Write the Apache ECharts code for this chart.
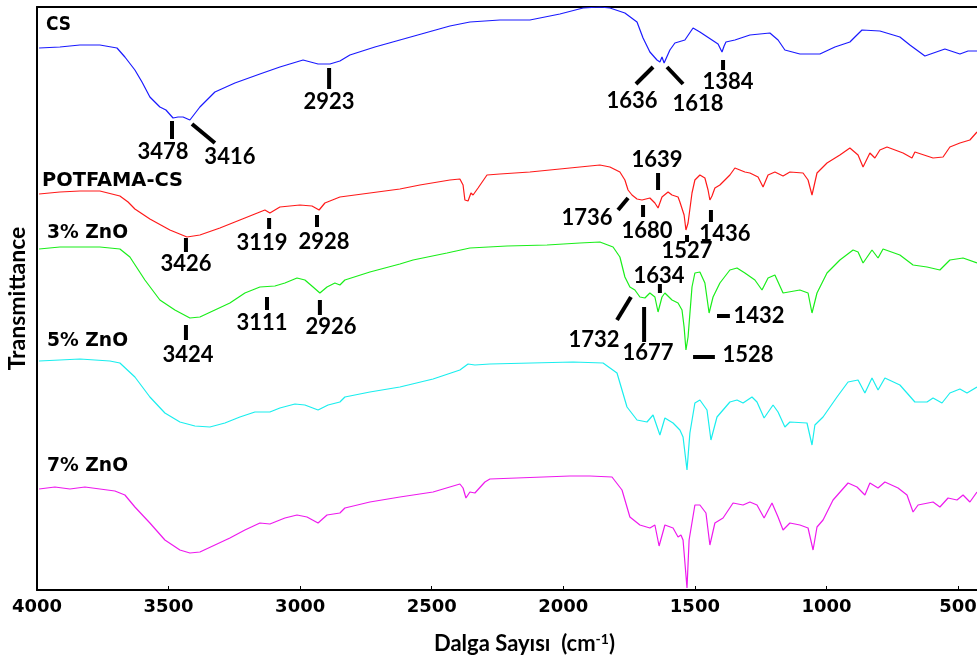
<!DOCTYPE html>
<html>
<head>
<meta charset="utf-8">
<script src="https://cdn.jsdelivr.net/npm/echarts@6/dist/echarts.min.js"></script>
<style>
  html, body { margin: 0; padding: 0; background: #fff; }
  #chart { width: 977px; height: 662px; }
</style>
</head>
<body>
<div id="chart"></div>
<script>
// FTIR spectra, stacked with vertical offsets (transmittance, arbitrary units)
const xTicks = [4000, 3500, 3000, 2500, 2000, 1500, 1000, 500];
const wnRange = [428, 4000];

const csWn = [3992,3913,3837,3761,3696,3666,3628,3601,3571,3533,3510,3483,3464,3445,3419,3381,3324,3248,3153,3077,2989,2932,2887,2849,2811,2716,2621,2526,2431,2355,2241,2127,2013,1925,1861,1823,1766,1720,1697,1671,1644,1633,1625,1617,1595,1576,1538,1507,1481,1435,1412,1405,1397,1389,1382,1348,1291,1215,1184,1158,1101,1025,968,911,892,865,797,721,683,626,550,493,462,428];
const csT = [108.4,108.6,109.0,109.0,108.4,106.6,104.0,101.6,98.6,96.6,96.0,94.4,94.6,94.6,94.0,96.6,99.6,101.4,103.2,104.6,106.0,105.2,105.2,105.8,107.0,108.6,110.0,111.4,112.8,113.6,114.0,114.0,115.2,116.4,116.6,116.4,115.4,113.6,110.4,107.6,106.0,105.6,106.6,105.4,108.0,109.4,110.0,112.4,111.6,110.0,109.2,109.0,107.6,108.8,109.6,110.0,111.0,111.4,110.0,108.0,107.2,107.2,108.6,109.6,110.6,112.0,111.8,110.6,109.0,106.8,108.2,107.2,107.8,107.8];

const potWn = [3992,3913,3837,3761,3685,3654,3628,3571,3495,3430,3381,3305,3229,3153,3134,3115,3077,3001,2955,2928,2906,2849,2735,2621,2545,2431,2393,2381,2374,2362,2351,2343,2324,2290,2241,2127,2013,1899,1861,1823,1785,1766,1754,1739,1720,1701,1671,1652,1640,1625,1602,1587,1564,1557,1541,1534,1526,1511,1500,1481,1462,1450,1443,1435,1424,1405,1367,1348,1310,1291,1260,1241,1222,1196,1165,1139,1089,1070,1055,1036,998,949,911,880,861,835,816,797,770,709,675,664,595,557,531,493,455,428];
const potT = [79.2,79.6,79.8,79.8,78.8,77.6,76.2,74.2,72.0,70.6,71.0,72.4,74.0,75.6,76.0,75.4,76.6,77.0,76.8,76.0,77.4,78.6,79.4,80.2,81.0,82.0,82.2,81.0,78.0,77.8,79.4,79.0,80.4,83.0,83.2,83.6,84.2,84.8,85.0,84.6,83.6,82.0,80.0,79.0,78.2,78.0,78.4,77.4,76.4,78.6,79.6,79.0,78.6,77.6,75.0,72.0,73.4,79.4,82.0,83.0,82.4,80.0,78.0,78.8,80.4,81.0,83.0,84.4,83.6,83.4,82.6,80.6,83.0,83.6,82.8,83.6,83.4,82.0,79.0,83.4,85.4,87.0,88.4,87.0,84.6,87.4,86.4,88.0,88.6,87.4,86.4,87.6,86.4,86.6,88.6,89.4,90.0,91.6];

const zn3Wn = [3992,3913,3837,3761,3685,3647,3590,3533,3476,3419,3381,3324,3267,3210,3153,3096,3058,3012,2982,2951,2925,2898,2868,2849,2830,2735,2621,2571,2442,2355,2214,2062,1937,1861,1811,1785,1766,1747,1728,1709,1690,1671,1652,1640,1625,1614,1587,1564,1549,1541,1534,1526,1511,1500,1481,1462,1446,1431,1405,1367,1340,1310,1272,1245,1222,1196,1165,1101,1070,1055,1036,998,949,899,880,861,827,804,785,721,671,618,569,531,481,428];
const zn3T = [68.2,68.6,68.6,68.6,68.2,66.6,62.0,58.0,56.0,54.4,54.6,56.0,57.4,59.4,60.6,60.8,61.4,62.4,62.0,60.6,59.4,60.6,61.4,61.0,62.0,63.6,65.2,66.0,67.4,68.4,68.8,69.0,69.4,69.6,68.6,66.6,62.6,60.6,60.0,58.6,58.4,59.4,58.6,55.6,58.6,59.4,58.0,57.4,56.0,52.6,48.0,50.6,60.6,63.4,63.6,61.4,55.4,58.6,61.4,64.0,64.4,63.4,62.0,60.0,62.4,63.0,59.4,60.0,59.4,55.4,59.4,63.4,66.0,68.0,67.6,65.4,68.0,66.4,68.2,67.0,65.0,64.6,64.0,66.0,66.4,65.4];

const zn5Wn = [3992,3913,3837,3723,3685,3628,3571,3514,3457,3400,3343,3286,3229,3172,3115,3077,3020,2982,2932,2894,2849,2830,2735,2621,2495,2393,2362,2336,2279,1963,1849,1796,1758,1720,1682,1659,1633,1614,1583,1557,1545,1530,1519,1500,1481,1454,1439,1416,1367,1340,1317,1283,1264,1237,1203,1184,1158,1139,1074,1055,1044,1013,960,918,880,854,827,804,778,721,694,664,618,595,561,531,493,466,428];
const zn5T = [45.8,46.0,46.2,45.8,45.4,42.6,38.6,35.4,33.6,32.8,32.6,33.4,34.6,35.6,35.6,36.4,37.2,37.0,36.0,37.0,37.6,38.6,39.6,40.6,42.2,44.0,45.2,45.0,45.2,45.6,45.4,43.4,36.6,34.0,33.6,35.0,31.0,34.4,33.4,32.0,30.6,24.0,31.4,37.4,38.0,36.0,30.0,34.6,37.6,38.0,37.4,38.6,37.6,34.4,37.0,35.6,32.6,33.6,33.4,29.0,33.0,34.6,38.6,41.6,42.0,39.4,42.4,40.0,42.4,41.0,39.4,37.6,37.6,38.4,37.4,39.4,40.2,39.4,40.6];

const zn7Wn = [3992,3932,3875,3818,3761,3704,3666,3628,3571,3514,3457,3419,3381,3324,3267,3210,3153,3115,3058,3012,2974,2932,2898,2849,2830,2735,2621,2495,2393,2381,2370,2355,2336,2298,2279,1975,1899,1815,1777,1747,1709,1671,1652,1636,1614,1583,1564,1553,1545,1530,1522,1500,1481,1458,1443,1424,1393,1355,1317,1291,1264,1237,1207,1184,1165,1139,1101,1070,1051,1036,1013,975,918,884,854,835,804,778,728,694,671,652,595,569,538,504,481,455,428];
const zn7T = [20.2,20.6,20.2,20.6,20.2,19.8,19.0,16.6,13.4,10.0,8.0,7.4,7.6,9.0,10.4,12.0,13.4,13.2,14.4,15.0,14.6,13.4,15.0,15.4,16.4,17.6,18.6,19.6,21.2,20.4,18.4,19.6,19.4,21.6,22.2,22.8,22.8,22.6,20.0,14.6,13.0,12.4,13.0,8.8,13.0,12.4,10.6,11.0,10.0,0.4,10.0,17.0,17.0,15.4,9.0,13.4,14.4,17.4,17.0,17.6,17.0,14.4,17.4,14.6,12.0,13.4,13.0,12.4,8.0,12.6,14.0,18.0,21.4,20.6,19.0,21.4,20.4,21.6,20.4,19.0,15.6,17.0,17.6,16.6,18.4,18.0,19.0,17.6,19.6];

const sampleNames = ['CS', 'POTFAMA-CS', '3% ZnO', '5% ZnO', '7% ZnO'];
const sampleColors = ['#1a1aff', '#ff1a1a', '#1aee1a', '#1aeeee', '#ee1aee'];
const sampleWn = [csWn, potWn, zn3Wn, zn5Wn, zn7Wn];
const sampleT = [csT, potT, zn3T, zn5T, zn7T];
// sample names are written between these two wavenumbers, at this transmittance
const sampleNameSpan = [[3966, 3871, 113.0], [3981, 3445, 81.8], [3962, 3654, 71.4], [3962, 3654, 49.8], [3962, 3654, 24.8]];

// peak annotations: label text, label centre, and the marker stroke from/to
const peakText = ['3478','3416','2923','1636','1618','1384',
                  '3426','3119','2928','1639','1736','1680','1527','1436',
                  '3424','3111','2926','1634','1732','1677','1432','1528'];
const peakLabelAt = [[3521,87.6],[3267,86.6],[2890,97.6],[1739,97.8],[1488,97.2],[1374,101.6],
                     [3434,65.2],[3145,69.4],[2909,69.6],[1644,86.0],[1910,74.4],[1682,71.8],[1530,67.8],[1386,71.2],
                     [3426,47.0],[3145,53.4],[2883,52.6],[1636,62.8],[1883,50.0],[1678,47.4],[1256,54.8],[1298,47.0]];
const peakMarker = [[3487,93.8,3487,90.2],[3411,93.2,3324,89.4],[2890,104.4,2890,100.2],[1659,104.6,1724,101.2],[1606,104.6,1545,101.2],[1393,106.0,1393,104.0],
                    [3434,70.4,3434,67.6],[3118,74.4,3118,72.2],[2936,75.0,2936,72.6],[1640,83.4,1640,80.0],[1754,78.4,1792,76.0],[1697,77.0,1697,74.6],[1530,71.0,1530,69.6],[1439,76.0,1439,73.6],
                    [3434,53.0,3434,50.0],[3126,58.6,3126,56.0],[2925,58.0,2925,55.0],[1633,61.2,1633,59.4],[1743,58.6,1796,54.0],[1693,56.6,1693,49.6],[1416,54.8,1367,54.8],[1507,46.6,1424,46.6]];

const chart = echarts.init(document.getElementById('chart'), null, { renderer: 'canvas' });

const spectra = sampleNames.map((name, i) => ({
  name: name,
  type: 'line',
  data: sampleWn[i].map((w, k) => [w, sampleT[i][k]]),
  showSymbol: false,
  symbol: 'none',
  lineStyle: { color: sampleColors[i], width: 1.2 },
  itemStyle: { color: sampleColors[i] },
  animation: false,
  z: 2
}));

// sample names, fitted to their span (the text is scaled horizontally to fill it)
const nameFont = 'bold 19px "DejaVu Sans"';
const nameSeries = {
  type: 'custom',
  data: sampleNameSpan,
  encode: { x: [0, 1], y: 2 },
  renderItem: function (params, api) {
    const a = api.coord([api.value(0), api.value(2)]);
    const b = api.coord([api.value(1), api.value(2)]);
    const text = sampleNames[params.dataIndex];
    const w = echarts.format.getTextRect ? echarts.format.getTextRect(text, nameFont).width : (b[0] - a[0]);
    const sx = w > 0 ? (b[0] - a[0]) / w : 1;
    return {
      type: 'text',
      x: a[0], y: a[1],
      scaleX: sx,
      style: {
        text: text,
        font: nameFont,
        fill: '#000',
        align: 'left',
        verticalAlign: 'middle'
      }
    };
  },
  animation: false,
  z: 5
};

const markerSeries = {
  type: 'custom',
  data: peakMarker,
  encode: { x: [0, 2], y: [1, 3] },
  renderItem: function (params, api) {
    const a = api.coord([api.value(0), api.value(1)]);
    const b = api.coord([api.value(2), api.value(3)]);
    return {
      type: 'line',
      shape: { x1: a[0], y1: a[1], x2: b[0], y2: b[1] },
      style: { stroke: '#000', lineWidth: 4 }
    };
  },
  animation: false,
  z: 5
};

const peakLabelSeries = {
  type: 'custom',
  data: peakLabelAt,
  encode: { x: 0, y: 1 },
  renderItem: function (params, api) {
    const p = api.coord([api.value(0), api.value(1)]);
    return {
      type: 'text',
      x: p[0], y: p[1],
      style: {
        text: peakText[params.dataIndex],
        font: 'bold 22px Lato',
        fill: '#000',
        align: 'center',
        verticalAlign: 'middle'
      }
    };
  },
  animation: false,
  z: 5
};

const frameLine = { show: true, lineStyle: { color: '#000', width: 2 } };

chart.setOption({
  backgroundColor: '#fff',
  animation: false,
  title: {
    text: '{a|Dalga Sayısı  (cm}{s|-1}{a|)}',
    left: 434,
    top: 632,
    padding: 0,
    textStyle: {
      rich: {
        a: { fontFamily: 'Lato', fontWeight: 'bold', fontSize: 22, color: '#000' },
        s: { fontFamily: 'Lato', fontWeight: 'bold', fontSize: 14, color: '#000', verticalAlign: 'top', padding: [0, 0, 10, 0] }
      }
    }
  },
  grid: {
    left: 37,
    right: 0,
    top: 7,
    bottom: 72,
    show: false,
    containLabel: false,
    outerBoundsMode: 'none'
  },
  xAxis: [{
    type: 'value',
    position: 'bottom',
    min: wnRange[0],
    max: wnRange[1],
    inverse: true,
    axisLine: frameLine,
    axisTick: { show: true, inside: true, length: 4, customValues: xTicks, lineStyle: { color: '#000', width: 1 } },
    splitLine: { show: false },
    axisLabel: {
      show: true,
      customValues: xTicks,
      formatter: v => String(v),
      margin: 8,
      color: '#000',
      fontFamily: 'DejaVu Sans',
      fontWeight: 'bold',
      fontSize: 18
    }
  }, {
    type: 'value',
    position: 'top',
    min: wnRange[0],
    max: wnRange[1],
    inverse: true,
    axisLine: frameLine,
    axisTick: { show: false },
    axisLabel: { show: false },
    splitLine: { show: false }
  }],
  yAxis: {
    type: 'value',
    min: 0,
    max: 116.6,
    name: 'Transmittance',
    nameLocation: 'middle',
    nameGap: 8,
    nameTextStyle: { fontFamily: 'Lato', fontWeight: 'bold', fontSize: 23, color: '#000' },
    axisLine: frameLine,
    axisTick: { show: false },
    axisLabel: { show: false },
    splitLine: { show: false }
  },
  series: spectra.concat([nameSeries, markerSeries, peakLabelSeries])
});
</script>
</body>
</html>
